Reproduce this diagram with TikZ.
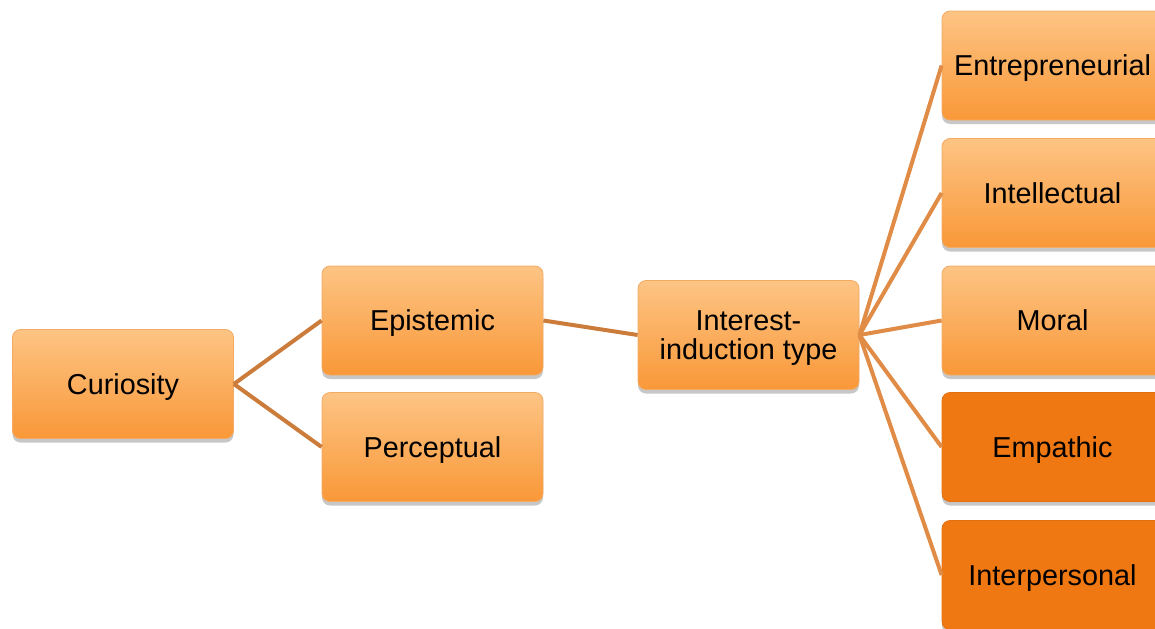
\documentclass[tikz,border=0pt]{standalone}
\usepackage{fontspec}
\setmainfont{Liberation Sans}
\usetikzlibrary{shadows}
\definecolor{boxtop}{RGB}{253,196,132}
\definecolor{boxbot}{RGB}{249,152,56}
\definecolor{boxedge}{RGB}{243,170,100}
\definecolor{darkfill}{RGB}{240,120,18}
\definecolor{darkedge}{RGB}{226,112,16}
\definecolor{linkcol}{RGB}{224,140,70}
\definecolor{linkdark}{RGB}{204,124,58}
\tikzset{
  box/.style={rectangle, rounded corners=6pt, minimum width=165.75pt, minimum height=81.75pt,
    inner sep=0pt, top color=boxtop, bottom color=boxbot, draw=boxedge, line width=0.6pt,
    align=center, text depth=0pt, font=\fontsize{21.6}{21.6}\selectfont,
    drop shadow={shadow xshift=0pt, shadow yshift=-3pt, opacity=0.22, fill=black}},
  darkbox/.style={box, top color=darkfill, bottom color=darkfill, draw=darkedge},
  link/.style={draw=linkcol, line width=3pt},
  linkd/.style={draw=linkdark, line width=3pt}
}
\begin{document}
\begin{tikzpicture}[x=0.75pt, y=-0.75pt]
\useasboundingbox (0,0) rectangle (1155,628);
\clip (0,0) rectangle (1155,628);
\node[box] (cur) at (123,384) {Curiosity};
\node[box] (epi) at (432.5,320.5) {Epistemic};
\node[box] (per) at (432.5,447) {Perceptual};
\node[box] (int) at (748.5,335) {Interest-\\induction type};
\node[box] (ent) at (1052.5,65.5) {Entrepreneurial};
\node[box] (itl) at (1052.5,193) {Intellectual};
\node[box] (mor) at (1052.5,320.5) {Moral};
\node[darkbox] (emp) at (1052.5,447) {Empathic};
\node[darkbox] (ipe) at (1052.5,575) {Interpersonal};
\draw[linkd] (cur.east) -- (epi.west);
\draw[linkd] (cur.east) -- (per.west);
\draw[linkd] (epi.east) -- (int.west);
\foreach \t in {ent,itl,mor,emp,ipe} {\draw[link] (int.east) -- (\t.west);}
\end{tikzpicture}
\end{document}
